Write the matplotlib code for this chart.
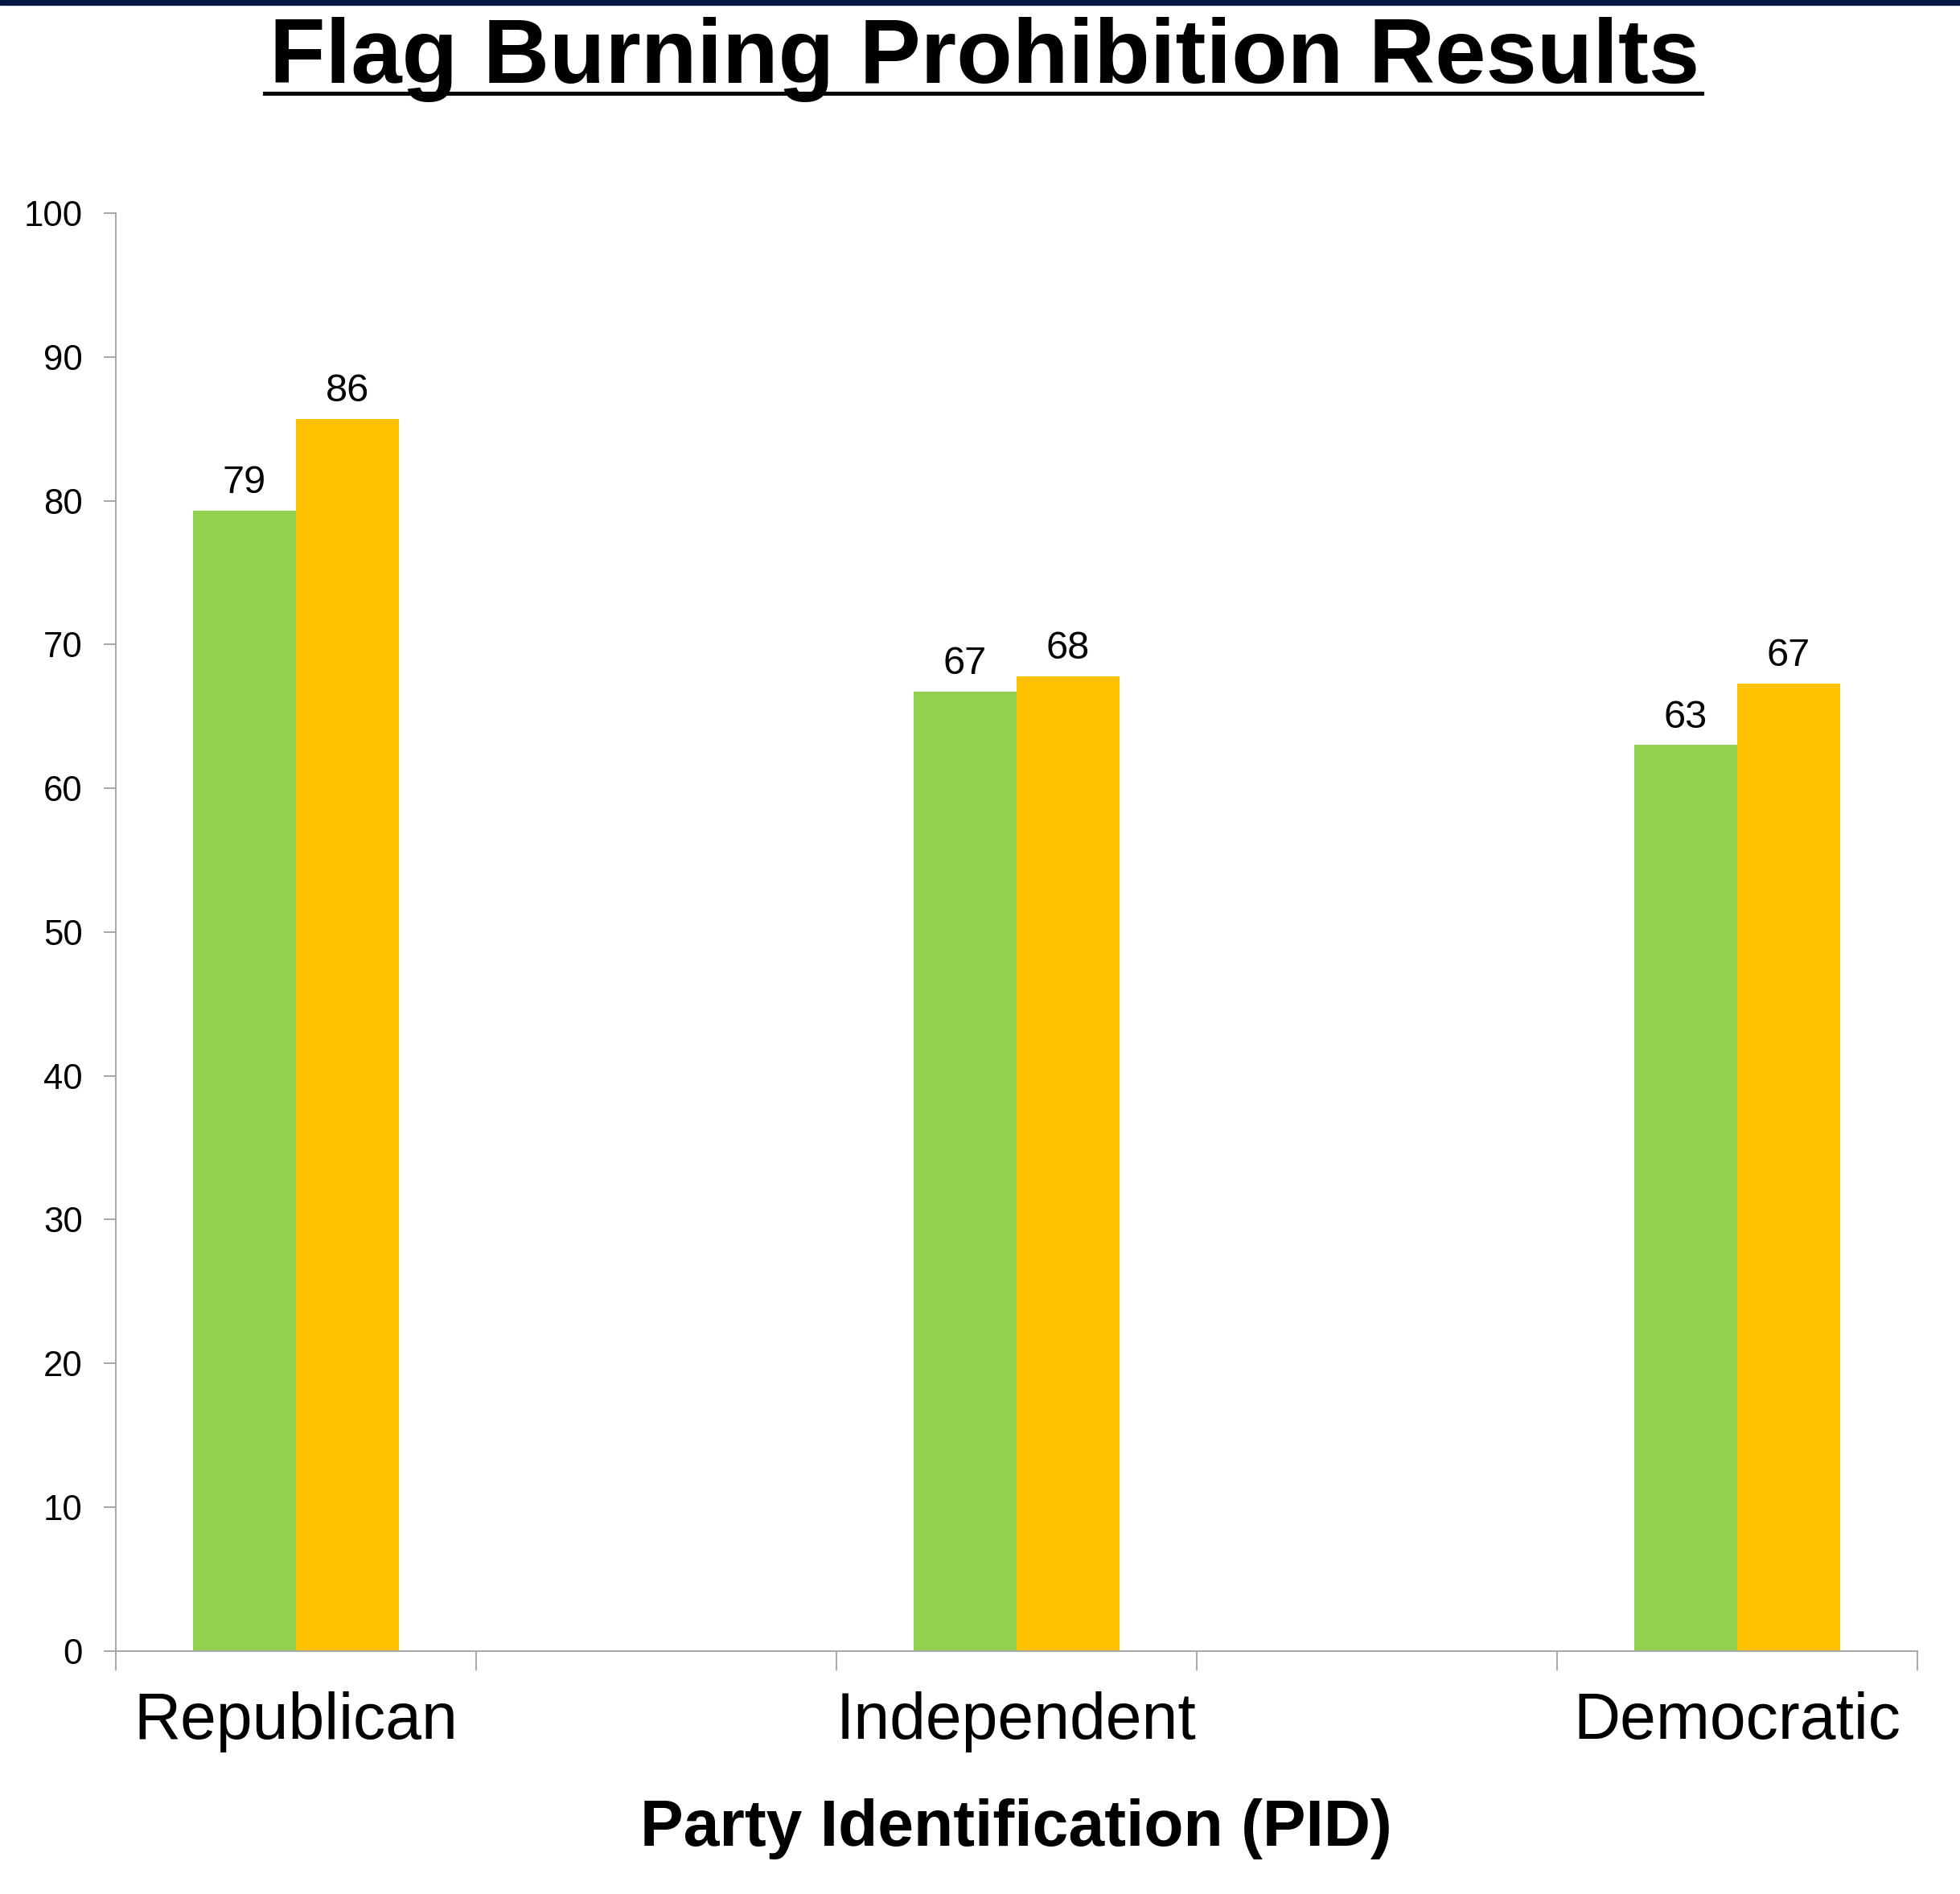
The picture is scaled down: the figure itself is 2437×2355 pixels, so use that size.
import numpy as np
import matplotlib
matplotlib.use("Agg")
import matplotlib.pyplot as plt
from matplotlib.lines import Line2D
from matplotlib.patches import Rectangle

plt.rcParams['font.family'] = ['Liberation Sans', 'DejaVu Sans']

# survey results by party
categories = ['Republican', 'Independent', 'Democratic']
green_vals = [79.3, 66.7, 63.0]
orange_vals = [85.7, 67.8, 67.3]
y_ticks = [0, 10, 20, 30, 40, 50, 60, 70, 80, 90, 100]

GREEN = '#92D050'
ORANGE = '#FFC000'
AXIS_GRAY = '#A6A6A6'

W, H, DPI = 2437, 2355, 100
fig = plt.figure(figsize=(W / DPI, H / DPI), dpi=DPI)

# dark band along the top edge
fig.patches.append(Rectangle((0, 1 - 6 / H), 1, 6 / H, transform=fig.transFigure,
                             color='#011641', zorder=5))

title = fig.text(0.5023, 1 - 103 / H, 'Flag Burning Prohibition Results',
                 ha='center', va='baseline', fontsize=82, fontweight='bold')

ax = fig.add_axes([143.7 / W, 1 - 2052.7 / H, 2240 / W, 1787.7 / H])

# each group sits in every other slot of a 5-slot category axis
centers = np.arange(len(categories)) * 2 + 0.5
bw = 1 / 3.5
b1 = ax.bar(centers - bw / 2, green_vals, width=bw, color=GREEN, zorder=2)
b2 = ax.bar(centers + bw / 2, orange_vals, width=bw, color=ORANGE, zorder=2)
for bars in (b1, b2):
    ax.bar_label(bars, fmt='%.0f', padding=8.6, fontsize=35)

ax.set_xlim(0, 5)
ax.set_ylim(0, 100)
ax.set_yticks(y_ticks)
ax.tick_params(axis='y', length=10.8, width=1.4, color=AXIS_GRAY,
               labelsize=31.5, pad=18.7)

ax.set_xticks(np.arange(6))
ax.set_xticklabels([])
ax.tick_params(axis='x', which='major', length=17.3, width=1.4, color=AXIS_GRAY)
ax.set_xticks(centers, minor=True)
ax.set_xticklabels(categories, minor=True)
ax.tick_params(axis='x', which='minor', length=0, labelsize=58, pad=36)

for side in ('top', 'right'):
    ax.spines[side].set_visible(False)
for side in ('left', 'bottom'):
    ax.spines[side].set_color(AXIS_GRAY)
    ax.spines[side].set_linewidth(1.4)

ax.set_xlabel('Party Identification (PID)', fontsize=58, fontweight='bold')
ax.xaxis.set_label_coords(0.5, -(2295 - 2052.7) / 1787.7)
ax.xaxis.label.set_va('baseline')

# underline the title
fig.canvas.draw()
bb = title.get_window_extent()
y_line = H - 115.5
fig.add_artist(Line2D([(bb.x0 - 6) / W, (bb.x1 + 3) / W], [y_line / H, y_line / H],
                      transform=fig.transFigure, color='black', lw=3.6))

fig.savefig('out.png', dpi=DPI)
